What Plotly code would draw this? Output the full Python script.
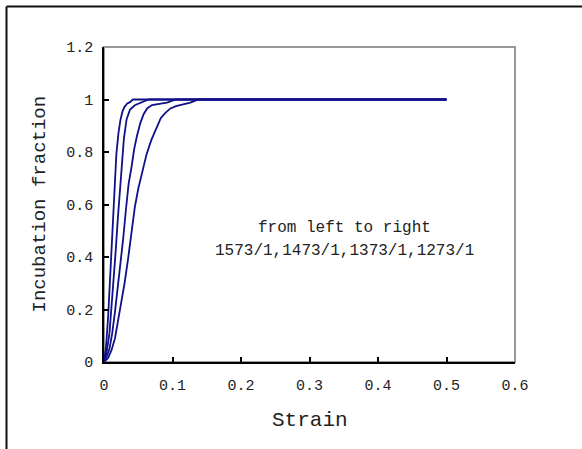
import plotly.graph_objects as go

# ---- data ----
strain_1573 = [0, 0.003, 0.006, 0.009, 0.012, 0.015, 0.018, 0.021, 0.024, 0.027, 0.030, 0.034, 0.038, 0.042, 0.1, 0.2, 0.3, 0.4, 0.5]
frac_1573 = [0, 0.06, 0.17, 0.33, 0.52, 0.67, 0.79, 0.87, 0.922, 0.955, 0.972, 0.985, 0.99, 1.0, 1.0, 1.0, 1.0, 1.0, 1.0]

strain_1473 = [0, 0.004, 0.008, 0.011, 0.014, 0.017, 0.020, 0.023, 0.026, 0.029, 0.033, 0.038, 0.045, 0.053, 0.065, 0.1, 0.2, 0.3, 0.4, 0.5]
frac_1473 = [0, 0.04, 0.11, 0.205, 0.30, 0.42, 0.54, 0.65, 0.75, 0.85, 0.925, 0.962, 0.978, 0.986, 1.0, 1.0, 1.0, 1.0, 1.0, 1.0]

strain_1373 = [0, 0.004, 0.008, 0.012, 0.016, 0.020, 0.024, 0.028, 0.032, 0.036, 0.040, 0.044, 0.048, 0.053, 0.058, 0.063, 0.070, 0.080, 0.092, 0.105, 0.2, 0.3, 0.4, 0.5]
frac_1373 = [0, 0.02, 0.05, 0.11, 0.19, 0.28, 0.36, 0.47, 0.58, 0.68, 0.74, 0.81, 0.86, 0.91, 0.945, 0.966, 0.979, 0.983, 0.988, 1.0, 1.0, 1.0, 1.0, 1.0]

strain_1273 = [0, 0.006, 0.011, 0.016, 0.020, 0.025, 0.030, 0.035, 0.040, 0.045, 0.050, 0.056, 0.062, 0.069, 0.076, 0.083, 0.090, 0.097, 0.105, 0.115, 0.126, 0.138, 0.2, 0.3, 0.4, 0.5]
frac_1273 = [0, 0.015, 0.045, 0.09, 0.15, 0.22, 0.30, 0.39, 0.49, 0.59, 0.66, 0.73, 0.79, 0.845, 0.89, 0.93, 0.95, 0.966, 0.975, 0.982, 0.988, 1.0, 1.0, 1.0, 1.0, 1.0]

series = [
    ("1573/1", strain_1573, frac_1573),
    ("1473/1", strain_1473, frac_1473),
    ("1373/1", strain_1373, frac_1373),
    ("1273/1", strain_1273, frac_1273),
]

x_tickvals = [0, 0.1, 0.2, 0.3, 0.4, 0.5, 0.6]
x_ticktext = ["0", "0.1", "0.2", "0.3", "0.4", "0.5", "0.6"]
y_tickvals = [0, 0.2, 0.4, 0.6, 0.8, 1.0, 1.2]
y_ticktext = ["0", "0.2", "0.4", "0.6", "0.8", "1", "1.2"]

FONT = "Liberation Mono"
LINE = "#10108a"

fig = go.Figure()
for name, xs, ys in series:
    fig.add_trace(go.Scatter(x=xs, y=ys, mode="lines", name=name,
                             line=dict(color=LINE, width=1.8), showlegend=False))

W, H = 582, 449
L, R, T, B = 104, 515, 47, 362
pw, ph = R - L, B - T

def px(x):
    return (x - L) / pw

def py(y):
    return (B - y) / ph

fig.update_layout(
    width=W, height=H,
    margin=dict(l=L, r=W - R, t=T, b=H - B, pad=0),
    paper_bgcolor="white", plot_bgcolor="white",
    font=dict(family=FONT, color="#222222"),
    xaxis=dict(range=[0, 0.6], tickvals=x_tickvals, ticktext=x_ticktext,
               showgrid=False, zeroline=False, showline=True, linecolor="black", linewidth=1.5,
               ticks="inside", ticklen=5, tickcolor="black", tickwidth=1.5,
               tickfont=dict(family=FONT, size=15, color="#222222"), ticklabelstandoff=8),
    yaxis=dict(range=[0, 1.2], tickvals=y_tickvals, ticktext=y_ticktext,
               showgrid=False, zeroline=False, showline=True, linecolor="black", linewidth=1.5,
               ticks="inside", ticklen=5, tickcolor="black", tickwidth=1.5,
               tickfont=dict(family=FONT, size=15, color="#222222"), ticklabelstandoff=6),
    shapes=[
        # gray plot frame (top/right)
        dict(type="rect", xref="paper", yref="paper", x0=0, y0=0, x1=1, y1=1,
             line=dict(color="#9a9a9a", width=2), layer="below"),
        # outer chart frame (top and left visible)
        dict(type="line", xref="paper", yref="paper", x0=px(6.5), y0=py(6.5), x1=px(582), y1=py(6.5),
             line=dict(color="#111111", width=2)),
        dict(type="line", xref="paper", yref="paper", x0=px(6.5), y0=py(6.5), x1=px(6.5), y1=py(449),
             line=dict(color="#111111", width=2)),
    ],
    annotations=[
        dict(text="Incubation fraction", xref="paper", yref="paper", x=px(39), y=0.5,
             textangle=-90, showarrow=False, xanchor="center", yanchor="middle",
             font=dict(family=FONT, size=19, color="#222222")),
        dict(text="Strain", xref="paper", yref="paper", x=0.5, y=py(420),
             showarrow=False, xanchor="center", yanchor="middle",
             font=dict(family=FONT, size=21, color="#222222")),
        dict(text="from left to right", xref="paper", yref="paper", x=px(344), y=py(228),
             showarrow=False, xanchor="center", yanchor="middle",
             font=dict(family=FONT, size=16, color="#222222")),
        dict(text="1573/1,1473/1,1373/1,1273/1", xref="paper", yref="paper", x=px(344), y=py(251),
             showarrow=False, xanchor="center", yanchor="middle",
             font=dict(family=FONT, size=16, color="#222222")),
    ],
)

fig.write_html("out.html")
